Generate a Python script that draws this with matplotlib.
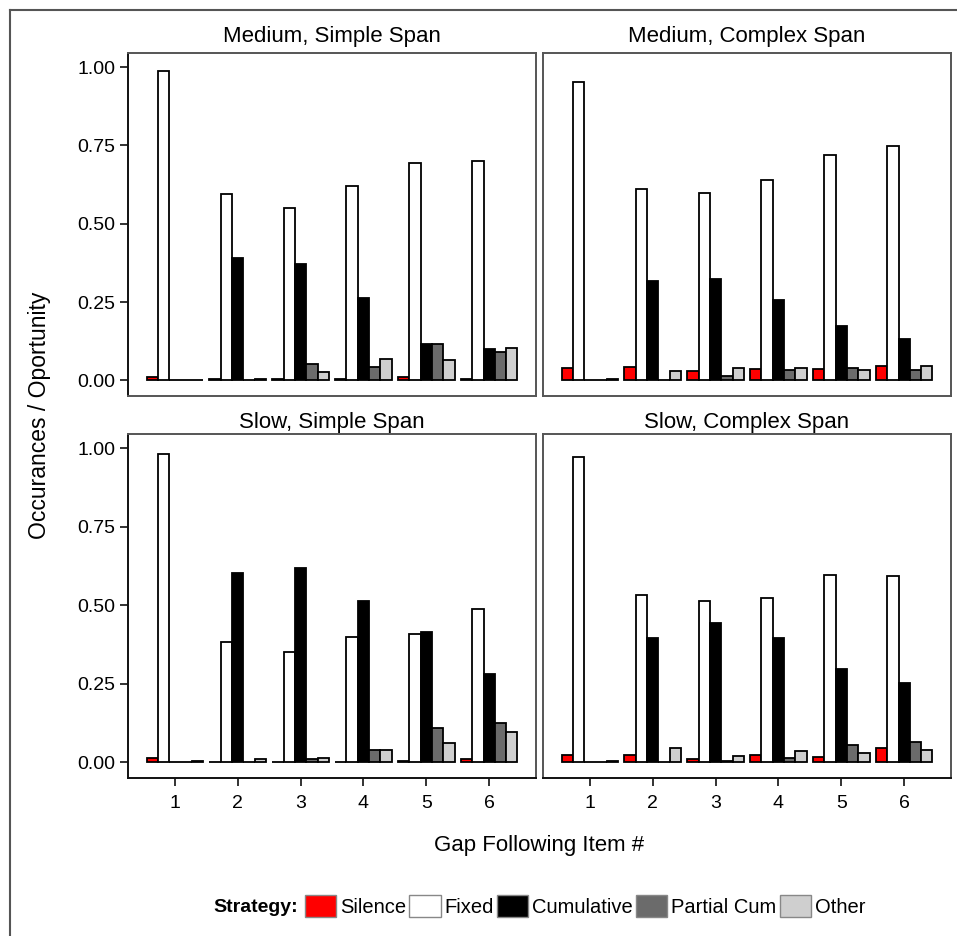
import matplotlib.pyplot as plt
from matplotlib.patches import Patch
from matplotlib.lines import Line2D
import numpy as np

plt.rcParams['font.family'] = ['Liberation Sans', 'DejaVu Sans']

# gap positions and strategies
gaps = [1, 2, 3, 4, 5, 6]
strategies = ["Silence", "Fixed", "Cumulative", "Partial Cum", "Other"]
colors = ["#FF0000", "#FFFFFF", "#000000", "#6B6B6B", "#CFCFCF"]

# proportions per panel, one list per strategy (gaps 1..6)
med_simple_silence = [0.010, 0.005, 0.003, 0.003, 0.010, 0.005]
med_simple_fixed = [0.986, 0.596, 0.550, 0.621, 0.693, 0.699]
med_simple_cum = [0.0, 0.391, 0.372, 0.263, 0.116, 0.101]
med_simple_partial = [0.0, 0.0, 0.051, 0.043, 0.116, 0.091]
med_simple_other = [0.0, 0.005, 0.027, 0.068, 0.066, 0.104]

med_complex_silence = [0.039, 0.043, 0.031, 0.036, 0.036, 0.045]
med_complex_fixed = [0.954, 0.610, 0.598, 0.639, 0.720, 0.747]
med_complex_cum = [0.0, 0.318, 0.322, 0.255, 0.172, 0.132]
med_complex_partial = [0.0, 0.0, 0.013, 0.033, 0.038, 0.033]
med_complex_other = [0.005, 0.031, 0.038, 0.038, 0.034, 0.045]

slow_simple_silence = [0.015, 0.0, 0.0, 0.0, 0.003, 0.010]
slow_simple_fixed = [0.980, 0.382, 0.352, 0.400, 0.408, 0.487]
slow_simple_cum = [0.0, 0.604, 0.619, 0.515, 0.415, 0.280]
slow_simple_partial = [0.0, 0.0, 0.011, 0.040, 0.110, 0.125]
slow_simple_other = [0.004, 0.011, 0.015, 0.038, 0.061, 0.095]

slow_complex_silence = [0.023, 0.023, 0.012, 0.022, 0.016, 0.046]
slow_complex_fixed = [0.972, 0.534, 0.515, 0.523, 0.597, 0.593]
slow_complex_cum = [0.0, 0.395, 0.443, 0.396, 0.297, 0.251]
slow_complex_partial = [0.0, 0.0, 0.004, 0.015, 0.054, 0.065]
slow_complex_other = [0.003, 0.045, 0.020, 0.036, 0.030, 0.039]

panels = [
    ("Medium, Simple Span", [med_simple_silence, med_simple_fixed, med_simple_cum,
                             med_simple_partial, med_simple_other]),
    ("Medium, Complex Span", [med_complex_silence, med_complex_fixed, med_complex_cum,
                              med_complex_partial, med_complex_other]),
    ("Slow, Simple Span", [slow_simple_silence, slow_simple_fixed, slow_simple_cum,
                           slow_simple_partial, slow_simple_other]),
    ("Slow, Complex Span", [slow_complex_silence, slow_complex_fixed, slow_complex_cum,
                            slow_complex_partial, slow_complex_other]),
]

W, H = 957, 936
fig = plt.figure(figsize=(W / 100, H / 100), dpi=100)

# panel boxes in pixels: (left, top, right, bottom)
boxes = [(128, 53, 536, 396), (543, 53, 951, 396),
         (128, 434, 536, 778), (543, 434, 951, 778)]

bar_w = 0.18
x = np.array(gaps, dtype=float)

for i, ((title, series), (l, t, r, b)) in enumerate(zip(panels, boxes)):
    ax = fig.add_axes([l / W, 1 - b / H, (r - l) / W, (b - t) / H])
    for k, (vals, c) in enumerate(zip(series, colors)):
        ax.bar(x + (k - 2) * bar_w, vals, width=bar_w, color=c,
               edgecolor="black", linewidth=1.3, zorder=3)
    ax.set_xlim(0.255, 6.745)
    ax.set_ylim(-0.05, 1.045)
    ax.set_yticks([0, 0.25, 0.5, 0.75, 1.0])
    ax.set_yticklabels(["0.00", "0.25", "0.50", "0.75", "1.00"])
    ax.set_xticks(gaps)
    ax.set_xticklabels([str(g) for g in gaps])
    ax.tick_params(axis="both", length=6, width=1.3, color="#222222",
                   labelsize=14, pad=3)
    if i % 2 == 1:
        ax.tick_params(axis="y", left=False, labelleft=False)
    if i < 2:
        ax.tick_params(axis="x", bottom=False, labelbottom=False)
    ax.tick_params(axis="x", pad=6)
    for s in ax.spines.values():
        s.set_color("#555555")
        s.set_linewidth(1.4)
    if i % 2 == 0:
        ax.spines["left"].set_color("#111111")
    if i >= 2:
        ax.spines["bottom"].set_color("#111111")
    ax.set_title(title, fontsize=16, pad=8 if i < 2 else 4)

fig.text(539.5 / W, 1 - 845 / H, "Gap Following Item #", fontsize=16,
         ha="center", va="center")
fig.text(40 / W, 1 - 415.5 / H, "Occurances / Oportunity", fontsize=16.5,
         ha="center", va="center", rotation=90)

# legend along the bottom
handles = [Patch(facecolor=c, edgecolor="#888888", linewidth=1.0) for c in colors]
fig.text(298 / W, 1 - 908 / H, "Strategy:", fontsize=14, fontweight="bold",
         ha="right", va="center")
fig.legend(handles, strategies, loc="center left",
           bbox_to_anchor=(305 / W, 1 - 906 / H), ncol=5, frameon=False,
           fontsize=14.5, handlelength=1.55, handleheight=1.3,
           handletextpad=0.2, columnspacing=0.15, borderpad=0, borderaxespad=0)

# frame lines along the top and left edges
fig.add_artist(Line2D([10 / W, 1], [1 - 10 / H, 1 - 10 / H], color="#555555",
                      linewidth=1.5, transform=fig.transFigure))
fig.add_artist(Line2D([10 / W, 10 / W], [0, 1 - 10 / H], color="#555555",
                      linewidth=1.5, transform=fig.transFigure))

fig.savefig("out.png", dpi=100, facecolor="white")
